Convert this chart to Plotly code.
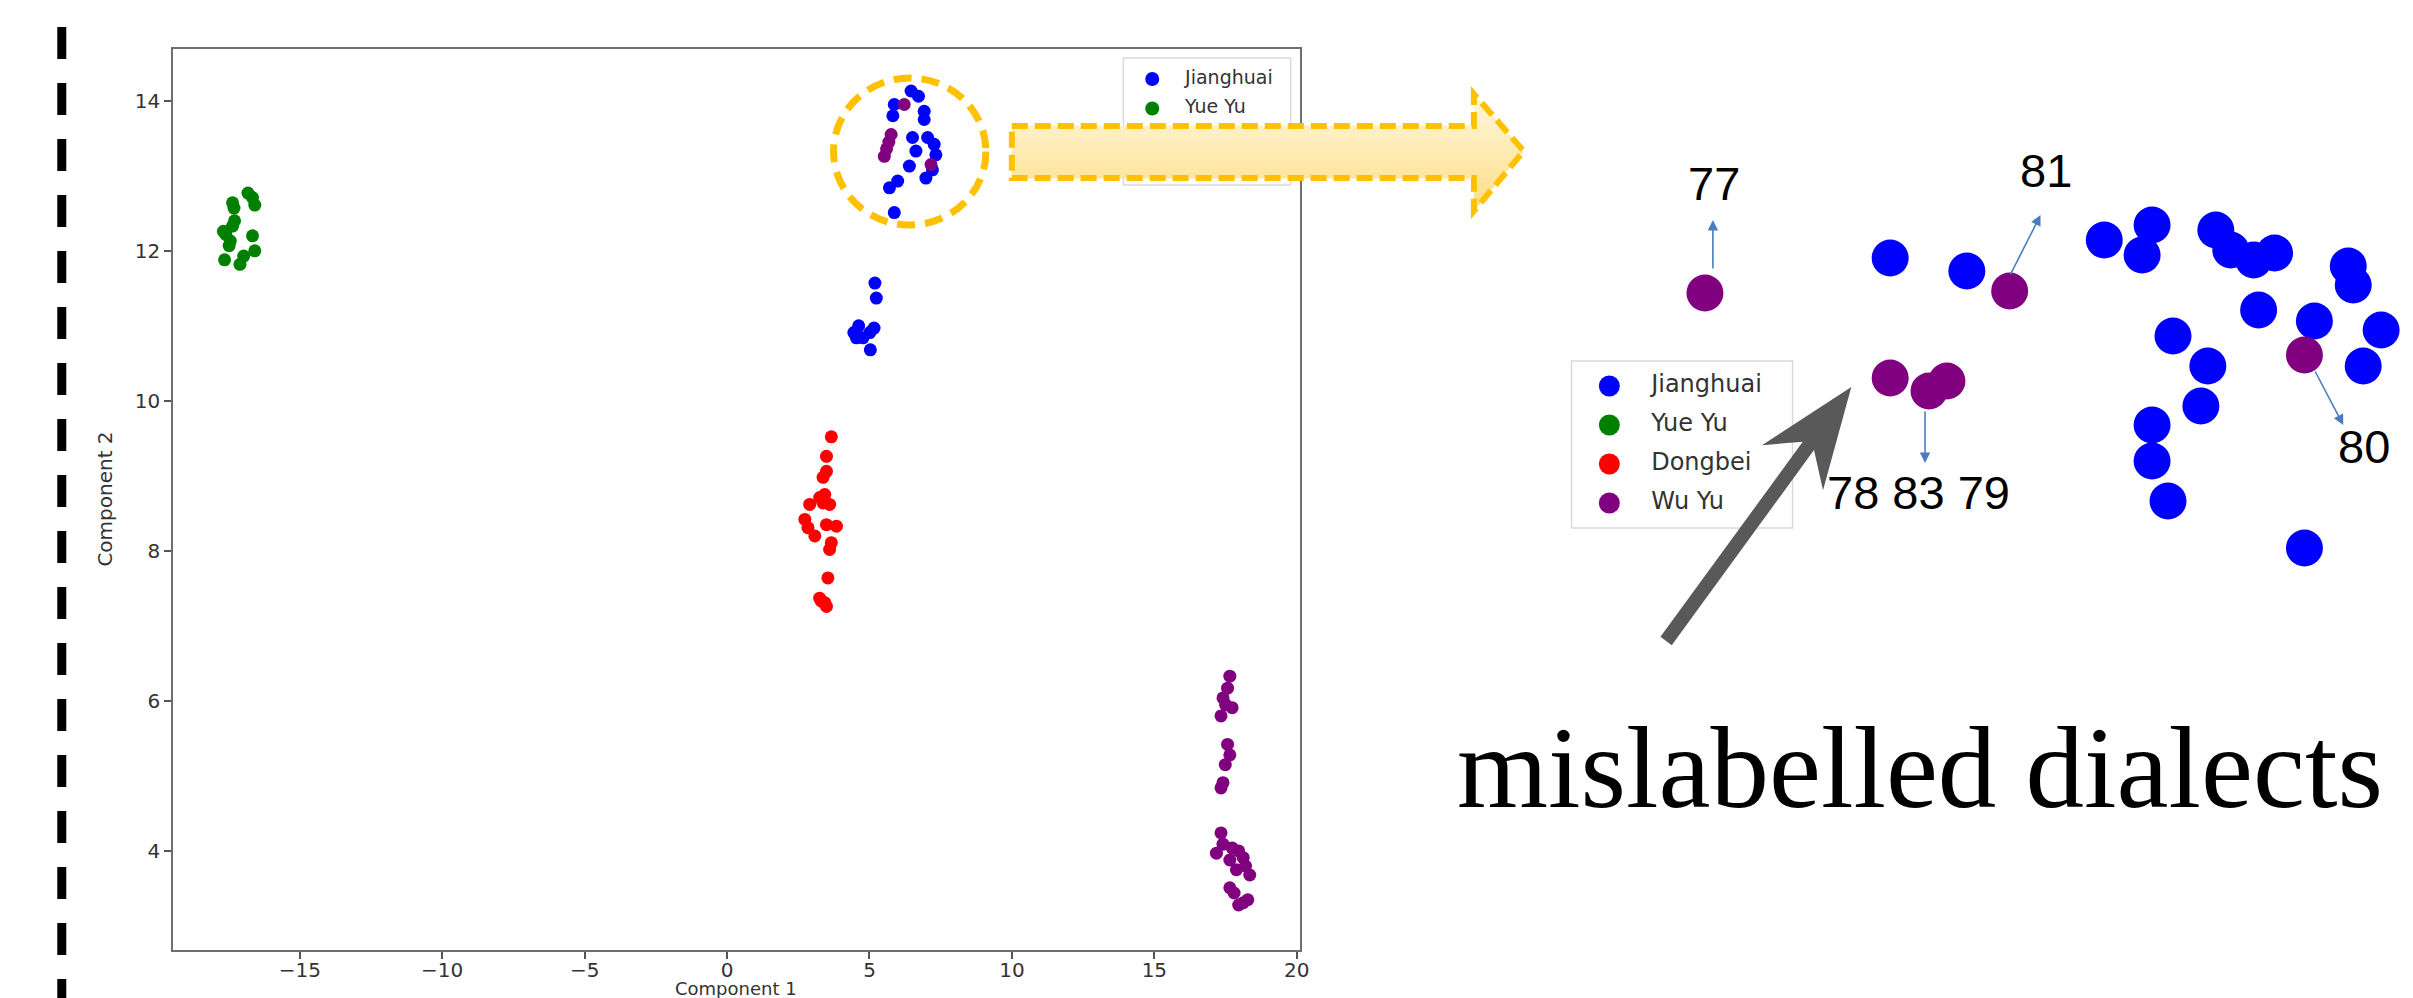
import numpy as np
import plotly.graph_objects as go

W, H = 2413, 998

# ---------------- main scatter data (Component 1 / Component 2) ----------------
jianghuai_x = [6.46, 6.72, 5.87, 6.92, 5.82, 6.92, 6.51, 7.04, 7.27, 6.63, 7.33, 6.40, 7.21,
               6.98, 5.99, 5.70, 5.87, 5.19, 5.24, 4.62, 5.16, 4.54, 5.01, 4.77, 5.03, 4.45]
jianghuai_y = [14.13, 14.06, 13.95, 13.86, 13.80, 13.75, 13.51, 13.51, 13.42, 13.33, 13.28, 13.13, 13.08,
               12.97, 12.93, 12.84, 12.51, 11.57, 11.37, 11.00, 10.97, 10.84, 10.91, 10.84, 10.68, 10.91]
yueyu_x = [-17.64, -17.10, -16.97, -16.58, -16.66, -17.60, -17.44, -17.36, -17.31, -17.36, -16.82,
           -16.66, -16.58, -17.68, -17.48, -17.29]
yueyu_y = [11.88, 11.82, 11.93, 12.00, 12.20, 12.22, 12.13, 12.33, 12.57, 12.64, 12.77,
           12.71, 12.61, 12.26, 12.07, 12.40]
dongbei_x = [3.66, 3.49, 3.37, 3.49, 3.43, 2.90, 3.37, 3.60, 2.73, 2.84, 3.08, 3.49, 3.84, 3.66,
             3.60, 3.54, 3.25, 3.43, 3.49, 3.31, 3.25]
dongbei_y = [9.52, 9.26, 8.98, 9.06, 8.75, 8.62, 8.64, 8.62, 8.42, 8.31, 8.20, 8.35, 8.33, 8.11,
             8.02, 7.64, 7.37, 7.31, 7.26, 7.33, 8.71]
wuyu_x = [6.22, 5.76, 5.68, 5.60, 5.52, 7.16,
          17.65, 17.57, 17.41, 17.73, 17.34, 17.50, 17.57, 17.65, 17.49, 17.41, 17.34, 17.34, 17.18,
          17.41, 17.73, 17.96, 18.12, 18.20, 18.35, 17.65, 17.88, 17.65, 17.80, 18.28, 17.96, 18.12]
wuyu_y = [13.95, 13.55, 13.45, 13.36, 13.26, 13.15,
          6.33, 6.17, 6.04, 5.91, 5.80, 5.95, 5.42, 5.28, 5.15, 4.91, 4.84, 4.24, 3.97,
          4.09, 4.04, 4.00, 3.91, 3.80, 3.68, 3.88, 3.75, 3.51, 3.44, 3.35, 3.28, 3.31]

# ---------------- zoomed inset data (local units) ----------------
inset_jh_x = [29.0, 36.7, 50.5, 55.3, 54.3, 61.7, 63.2, 65.5, 67.6, 75.0, 75.5, 66.0, 71.6, 78.3,
              76.5, 57.4, 60.9, 60.2, 55.3, 55.3, 56.9, 70.6]
inset_jh_y = [31.0, 29.7, 32.8, 34.3, 31.3, 33.8, 31.8, 30.8, 31.5, 30.2, 28.3, 25.8, 24.7, 23.8,
              20.2, 23.2, 20.2, 16.2, 14.3, 10.7, 6.7, 2.0]
inset_wu_x = [10.4, 29.0, 32.9, 34.7, 41.0, 70.6]
inset_wu_y = [27.5, 19.0, 17.7, 18.7, 27.7, 21.3]
inset_wu_ids = ["77", "78", "83", "79", "81", "80"]

# labels of the mislabelled points: text, label position, arrow tail, arrow head
label_text = ["77", "81", "78 83 79", "80"]
label_x = [11.3, 44.6, 31.8, 76.6]
label_y = [38.5, 39.8, 7.6, 12.2]
arrow_tail_x = [11.2, 41.0, 32.5, 71.6]
arrow_tail_y = [29.8, 29.2, 15.8, 19.8]
arrow_head_x = [11.2, 44.1, 32.5, 74.5]
arrow_head_y = [34.8, 35.3, 10.5, 14.3]

categories = ["Jianghuai", "Yue Yu", "Dongbei", "Wu Yu"]
cat_colors = ["#0000ff", "#008000", "#ff0000", "#800080"]

x_tickvals = [-15, -10, -5, 0, 5, 10, 15, 20]
x_ticktext = ["\u221215", "\u221210", "\u22125", "0", "5", "10", "15", "20"]
y_tickvals = [4, 6, 8, 10, 12, 14]
y_ticktext = ["4", "6", "8", "10", "12", "14"]


def PX(x):
    return x / W


def PY(y):
    return 1 - y / H


def path_px(points):
    return "M " + " L ".join(f"{PX(x):.6f},{PY(y):.6f}" for x, y in points) + " Z"


def mix(c1, c2, t):
    a = [int(c1[i:i + 2], 16) for i in (1, 3, 5)]
    b = [int(c2[i:i + 2], 16) for i in (1, 3, 5)]
    return "rgb(%d,%d,%d)" % tuple(round(a[k] + (b[k] - a[k]) * t) for k in range(3))


fig = go.Figure()

# main scatter
main_series = [(jianghuai_x, jianghuai_y), (yueyu_x, yueyu_y), (dongbei_x, dongbei_y), (wuyu_x, wuyu_y)]
for name, col, (xs, ys) in zip(categories, cat_colors, main_series):
    fig.add_trace(go.Scatter(x=xs, y=ys, mode="markers", name=name, showlegend=False,
                             marker=dict(size=13, color=col, line=dict(width=0)),
                             xaxis="x", yaxis="y", cliponaxis=False))

# inset scatter
fig.add_trace(go.Scatter(x=inset_jh_x, y=inset_jh_y, mode="markers", showlegend=False,
                         marker=dict(size=37, color=cat_colors[0], line=dict(width=0)),
                         xaxis="x2", yaxis="y2", cliponaxis=False))
fig.add_trace(go.Scatter(x=inset_wu_x, y=inset_wu_y, mode="markers", showlegend=False,
                         text=inset_wu_ids,
                         marker=dict(size=37, color=cat_colors[3], line=dict(width=0)),
                         xaxis="x2", yaxis="y2", cliponaxis=False))

# hand-drawn legends on a full-figure canvas axis (so the overlay arrows can sit on top)
main_leg_y = [71 + 29.5 * i for i in range(4)]
fig.add_trace(go.Scatter(x=[1149] * 4, y=main_leg_y, mode="markers", showlegend=False,
                         marker=dict(size=14, color=cat_colors), xaxis="x3", yaxis="y3"))
fig.add_trace(go.Scatter(x=[1182] * 4, y=main_leg_y, mode="text", text=categories, showlegend=False,
                         textposition="middle right",
                         textfont=dict(family="DejaVu Sans", size=19, color="#333333"),
                         xaxis="x3", yaxis="y3"))
ins_leg_y = [378 + 39 * i for i in range(4)]
fig.add_trace(go.Scatter(x=[1608] * 4, y=ins_leg_y, mode="markers", showlegend=False,
                         marker=dict(size=21, color=cat_colors), xaxis="x3", yaxis="y3"))
fig.add_trace(go.Scatter(x=[1650] * 4, y=ins_leg_y, mode="text", text=categories, showlegend=False,
                         textposition="middle right",
                         textfont=dict(family="DejaVu Sans", size=24, color="#333333"),
                         xaxis="x3", yaxis="y3"))

shapes = []
# legend boxes (below everything)
shapes.append(dict(type="rect", xref="paper", yref="paper", layer="below",
                   x0=PX(1120), x1=PX(1288), y0=PY(50), y1=PY(177),
                   line=dict(color="#d9d9d9", width=1.5), fillcolor="white"))
shapes.append(dict(type="rect", xref="paper", yref="paper", layer="below",
                   x0=PX(1570), x1=PX(1792), y0=PY(353), y1=PY(520),
                   line=dict(color="#d9d9d9", width=1.5), fillcolor="white"))

# left dashed separator
shapes.append(dict(type="line", xref="paper", yref="paper", layer="above",
                   x0=PX(54), x1=PX(54), y0=PY(19), y1=PY(1010),
                   line=dict(color="black", width=9, dash="32px,24px")))

# dashed golden circle around the zoomed cluster
shapes.append(dict(type="circle", xref="paper", yref="paper", layer="above",
                   x0=PX(829), x1=PX(982), y0=PY(70), y1=PY(217),
                   line=dict(color="#FFC000", width=7, dash="18px,10px")))

# block arrow pointing to the zoomed view (vertical gradient fill built from thin bands)
BX0, BX1, BT, BB, HT, HB, TIPX, TIPY = 1008, 1472, 118, 170, 86, 203, 1522, 143


def right_edge(y):
    if y <= TIPY:
        return BX1 + (TIPX - BX1) * (y - HT) / (TIPY - HT)
    return BX1 + (TIPX - BX1) * (HB - y) / (HB - TIPY)


edges = sorted(set(list(np.linspace(HT, HB, 31)) + [BT, BB, TIPY]))
for a, b in zip(edges[:-1], edges[1:]):
    mid = 0.5 * (a + b)
    lx = BX0 if BT <= mid <= BB else BX1
    t = (mid - HT) / (HB - HT)
    col = mix("#FFF7DF", "#FDDD86", t)
    a2, b2 = max(HT, a - 0.6), min(HB, b + 0.6)
    poly = [(lx, a2), (right_edge(a2), a2)]
    if a2 < TIPY < b2:
        poly.append((TIPX, TIPY))
    poly += [(right_edge(b2), b2), (lx, b2)]
    shapes.append(dict(type="path", xref="paper", yref="paper", layer="above", path=path_px(poly),
                       fillcolor=col, line=dict(width=0)))
blk = [(BX0, BT), (BX1, BT), (BX1, HT), (TIPX, TIPY), (BX1, HB), (BX1, BB), (BX0, BB)]
shapes.append(dict(type="path", xref="paper", yref="paper", layer="above", path=path_px(blk),
                   fillcolor="rgba(0,0,0,0)", line=dict(color="#FFC000", width=6, dash="16px,7px")))

# big grey arrow
tail = np.array([1665.0, 633.0])
tip = np.array([1851.0, 379.0])
u = (tip - tail) / np.linalg.norm(tip - tail)
n = np.array([-u[1], u[0]])
hl, hw, notch, sw = 100.0, 38.0, 73.0, 7.0
pts = [tip,
       tip - u * hl + n * hw,
       tip - u * notch + n * sw,
       tail + n * sw,
       tail - n * sw,
       tip - u * notch - n * sw,
       tip - u * hl - n * hw]
shapes.append(dict(type="path", xref="paper", yref="paper", layer="above",
                   path=path_px([(p[0], p[1]) for p in pts]),
                   fillcolor="#595959", line=dict(width=0)))

annotations = []
# axis titles
annotations.append(dict(text="Component 1", xref="paper", yref="paper", x=PX(731), y=PY(993),
                        xanchor="center", yanchor="bottom", showarrow=False,
                        font=dict(family="DejaVu Sans", size=18, color="#333333")))
annotations.append(dict(text="Component 2", xref="paper", yref="paper", x=PX(97), y=PY(491),
                        xanchor="center", yanchor="middle", showarrow=False, textangle=-90,
                        font=dict(family="DejaVu Sans", size=20, color="#333333")))

# inset labels and thin arrows
for t, lx, ly in zip(label_text, label_x, label_y):
    annotations.append(dict(text=t, xref="x2", yref="y2", x=lx, y=ly, showarrow=False,
                            xanchor="center", yanchor="middle",
                            font=dict(family="Liberation Sans", size=47, color="black")))
for tx, ty, hx, hy in zip(arrow_tail_x, arrow_tail_y, arrow_head_x, arrow_head_y):
    annotations.append(dict(text="", xref="x2", yref="y2", x=hx, y=hy, axref="x2", ayref="y2",
                            ax=tx, ay=ty, showarrow=True, arrowhead=2, arrowsize=1.3,
                            arrowwidth=1.6, arrowcolor="#4a7dbf"))

# caption
annotations.append(dict(text="mislabelled dialects", xref="paper", yref="paper",
                        x=PX(1920), y=PY(759), xanchor="center", yanchor="middle", showarrow=False,
                        font=dict(family="Liberation Serif", size=117, color="black")))

axis_common = dict(showgrid=False, zeroline=False, ticks="outside", ticklen=7, tickwidth=1.5,
                   tickcolor="#555555", showline=True, linecolor="#6e6e6e", linewidth=2, mirror=True,
                   tickfont=dict(family="DejaVu Sans", size=20, color="#333333"))

fig.update_layout(
    width=W, height=H,
    margin=dict(l=0, r=0, t=0, b=0),
    paper_bgcolor="white", plot_bgcolor="rgba(0,0,0,0)",
    showlegend=False,
    xaxis=dict(domain=[PX(166), PX(1297)], range=[-19.44, 20.10], tickvals=x_tickvals,
               ticktext=x_ticktext, anchor="y", ticklabelstandoff=-6, **axis_common),
    yaxis=dict(domain=[PY(942), PY(41)], range=[2.68, 14.69], tickvals=y_tickvals,
               ticktext=y_ticktext, anchor="x", **axis_common),
    xaxis2=dict(domain=[PX(1600), PX(2413)], range=[0, 81.3], visible=False, anchor="y2"),
    yaxis2=dict(domain=[PY(560), PY(150)], range=[0, 41], visible=False, anchor="x2"),
    xaxis3=dict(domain=[0, 1], range=[0, W], visible=False, anchor="y3"),
    yaxis3=dict(domain=[0, 1], range=[H, 0], visible=False, anchor="x3"),
    shapes=shapes,
    annotations=annotations,
)

fig.write_html("out.html")
